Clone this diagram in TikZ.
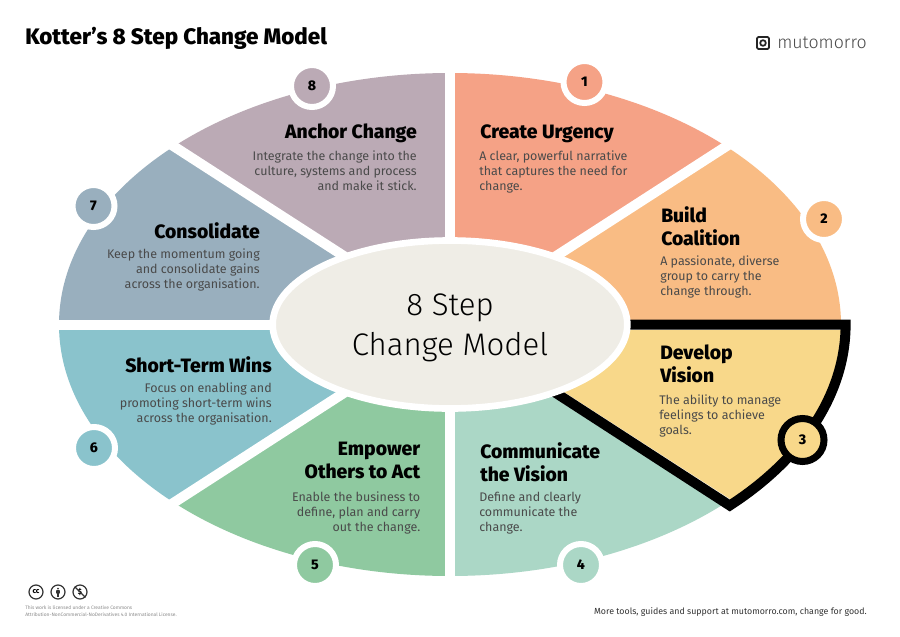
\documentclass[tikz,border=0pt]{standalone}
\usepackage{fontspec}
\usetikzlibrary{shapes.geometric}
\setmainfont{Fira Sans}
\newfontfamily\headfont{Fira Sans ExtraBold}
\newfontfamily\lightfont{Fira Sans Light}
\definecolor{colone}{HTML}{F5A286}
\definecolor{coltwo}{HTML}{F9BC84}
\definecolor{colthree}{HTML}{F8D88A}
\definecolor{colfour}{HTML}{ABD7C6}
\definecolor{colfive}{HTML}{8FC9A0}
\definecolor{colsix}{HTML}{8AC3CC}
\definecolor{colseven}{HTML}{99AFBE}
\definecolor{coleight}{HTML}{BBAAB5}
\definecolor{colcentre}{HTML}{EFEDE6}
\definecolor{colbody}{HTML}{4A4A4A}
\tikzset{
  headleft/.style={anchor=north west,align=left,inner sep=0pt,font=\headfont\fontsize{14.5}{17.2}\selectfont},
  headright/.style={anchor=north east,align=right,inner sep=0pt,font=\headfont\fontsize{14.5}{17.2}\selectfont},
  bodyleft/.style={anchor=north west,align=left,inner sep=0pt,text=colbody,font=\fontsize{9.35}{11.3}\selectfont},
  bodyright/.style={anchor=north east,align=right,inner sep=0pt,text=colbody,font=\fontsize{9.35}{11.3}\selectfont},
  badge/.style={circle,minimum size=31.5pt,inner sep=0pt,draw=white,line width=4.5pt,font=\headfont\fontsize{10.5}{12}\selectfont},
  ccicon/.style={circle,draw=black!80,line width=0.9pt,minimum size=10.5pt,inner sep=0pt,font=\headfont\fontsize{5.5}{6}\selectfont},
}
\begin{document}
\begin{tikzpicture}[x=0.75pt,y=-0.75pt]
  \useasboundingbox (0,0) rectangle (900,636);
  \fill[white] (0,0) rectangle (900,636);

  % Title and logo
  \node[anchor=west,inner sep=0pt,font=\headfont\fontsize{16.8}{20}\selectfont] (title) at (25,38) {Kotter’s 8 Step Change Model};
  \draw[line width=1.4pt,rounded corners=1pt,black!85] (757,37) rectangle (769,49);
  \draw[line width=1.3pt,black!85] (763,43) circle (2.8);
  \node[anchor=west,inner sep=0pt,text=colbody,font=\lightfont\fontsize{13.3}{16}\selectfont] (logo) at (777,42.5) {mutomorro};

  % Drawing the eight sectors
  \begin{scope}
    \clip (450,324.5) ellipse (391 and 251.5);
    \fill[colone] (450,324.5) -- (450,40) -- (850,40) -- (850,66.5) -- cycle;
    \fill[coltwo] (450,324.5) -- (850,66.5) -- (850,324.5) -- cycle;
    \fill[colthree] (450,324.5) -- (850,324.5) -- (850,582.5) -- cycle;
    \fill[colfour] (450,324.5) -- (850,582.5) -- (850,610) -- (450,610) -- cycle;
    \fill[colfive] (450,324.5) -- (450,610) -- (50,610) -- (50,582.5) -- cycle;
    \fill[colsix] (450,324.5) -- (50,582.5) -- (50,324.5) -- cycle;
    \fill[colseven] (450,324.5) -- (50,324.5) -- (50,66.5) -- cycle;
    \fill[coleight] (450,324.5) -- (50,66.5) -- (50,40) -- (450,40) -- cycle;
  \end{scope}

  % Drawing the white gaps
  \draw[white,line width=7.5pt] (450,40) -- (450,610);
  \draw[white,line width=7.5pt] (40,324.5) -- (860,324.5);
  \draw[white,line width=7.5pt] (50,66.5) -- (850,582.5);
  \draw[white,line width=7.5pt] (50,582.5) -- (850,66.5);

  % Outline of step 3
  \draw[black,line width=7.5pt,miter limit=10] (450,324.5) -- (845.6,324.5)
    arc[start angle=0,end angle=45,x radius=395.6,y radius=256] -- cycle;

  % Drawing the centre
  \node[ellipse,fill=colcentre,draw=white,line width=5pt,minimum width=266pt,minimum height=126pt,inner sep=0pt] (centre) at (450,324.5) {};
  \node[align=center,inner sep=0pt,font=\lightfont\fontsize{23.4}{30}\selectfont] (centretext) at (450,327.5) {8 Step\\Change Model};

  % Marking the number badges
  \node[badge,fill=colone] (num1) at (584.5,82) {1};
  \node[badge,fill=coltwo] (num2) at (824,219) {2};
  \node[badge,fill=colthree,draw=black,line width=5.25pt,minimum size=32.25pt] (num3) at (802.5,440) {3};
  \node[badge,fill=colfour] (num4) at (581,565) {4};
  \node[badge,fill=colfive] (num5) at (315,565) {5};
  \node[badge,fill=colsix] (num6) at (94,448) {6};
  \node[badge,fill=colseven] (num7) at (93.5,206) {7};
  \node[badge,fill=coleight] (num8) at (312,86) {8};

  % Step 1
  \node[headleft] (head1) at (480,124) {Create Urgency};
  \node[bodyleft] (text1) at (479,150.5) {A clear, powerful narrative\\that captures the need for\\change.};
  % Step 2
  \node[headleft] (head2) at (661,206) {Build\\Coalition};
  \node[bodyleft] (text2) at (660,255.5) {A passionate, diverse\\group to carry the\\change through.};
  % Step 3
  \node[headleft] (head3) at (660,345) {Develop\\Vision};
  \node[bodyleft] (text3) at (659,394.5) {The ability to manage\\feelings to achieve\\goals.};
  % Step 4
  \node[headleft] (head4) at (480,442) {Communicate\\the Vision};
  \node[bodyleft] (text4) at (479,491.5) {Define and clearly\\communicate the\\change.};
  % Step 5
  \node[headright] (head5) at (420.5,442) {Empower\\Others to Act};
  \node[bodyright] (text5) at (420.5,491.5) {Enable the business to\\define, plan and carry\\out the change.};
  % Step 6
  \node[headright] (head6) at (272,356) {Short-Term Wins};
  \node[bodyright] (text6) at (272,382.5) {Focus on enabling and\\promoting short-term wins\\across the organisation.};
  % Step 7
  \node[headright] (head7) at (260,222) {Consolidate};
  \node[bodyright] (text7) at (260,248.5) {Keep the momentum going\\and consolidate gains\\across the organisation.};
  % Step 8
  \node[headright] (head8) at (417,124) {Anchor Change};
  \node[bodyright] (text8) at (417,150.5) {Integrate the change into the\\culture, systems and process\\and make it stick.};

  % Licence icons and small print
  \node[ccicon] (ccby) at (36,592) {cc};
  \node[ccicon] (ccperson) at (58,592) {};
  \fill[black!80] (58,588.7) circle (1);
  \fill[black!80,rounded corners=0.4pt] (56.2,590.2) rectangle (59.8,593.6);
  \fill[black!80] (57,593) rectangle (59,596.5);
  \node[ccicon] (ccnc) at (80,592) {\$};
  \draw[black!80,line width=0.9pt] (ccnc.north west) -- (ccnc.south east);
  \node[anchor=north west,inner sep=0pt,align=left,text=black!45,font=\fontsize{3.68}{5.2}\selectfont] (licence) at (25,605.5)
    {This work is licensed under a Creative Commons\\Attribution-NonCommercial-NoDerivatives 4.0 International License.};
  \node[anchor=east,inner sep=0pt,text=black!80,font=\fontsize{6.62}{9}\selectfont] (footer) at (867,612)
    {More tools, guides and support at mutomorro.com, change for good.};
\end{tikzpicture}
\end{document}
